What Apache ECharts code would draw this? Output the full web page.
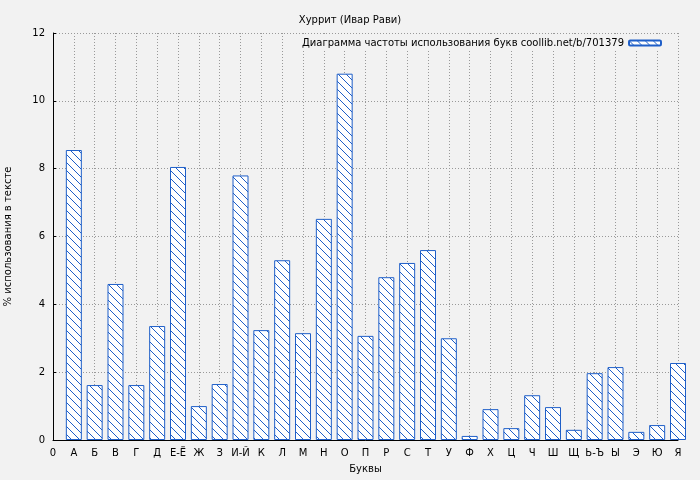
<!DOCTYPE html>
<html>
<head>
<meta charset="utf-8">
<script src="https://cdn.jsdelivr.net/npm/echarts@6/dist/echarts.min.js"></script>
<style>body{margin:0;background:#f2f2f2}#c{width:700px;height:480px}</style>
</head>
<body>
<div id="c"></div>
<script>
var letters = ['0','А','Б','В','Г','Д','Е-Ё','Ж','З','И-Й','К','Л','М','Н','О','П','Р','С','Т','У','Ф','Х','Ц','Ч','Ш','Щ','Ь-Ъ','Ы','Э','Ю','Я'];
var values = [8.55,1.62,4.6,1.62,3.36,8.05,1.0,1.65,7.8,3.24,5.3,3.15,6.52,10.8,3.07,4.8,5.22,5.6,3.0,0.12,0.91,0.35,1.32,0.97,0.3,1.97,2.15,0.24,0.44,2.27];
var seriesName = 'Диаграмма частоты использования букв coollib.net/b/701379';

// diagonal hatch fill
var pat = document.createElement('canvas');
pat.width = 8; pat.height = 8;
var g = pat.getContext('2d');
g.fillStyle = '#ffffff'; g.fillRect(0, 0, 8, 8);
g.strokeStyle = '#1f5fc8'; g.lineWidth = 1;
g.beginPath();
g.moveTo(-1, -1); g.lineTo(9, 9);
g.moveTo(-1, 7); g.lineTo(1, 9);
g.moveTo(7, -1); g.lineTo(9, 1);
g.stroke();

var data = values.map(function(v, i) { return [i + 1, v]; });
var grid = {lineStyle: {color: '#999', type: [1, 2]}};

var chart = echarts.init(document.getElementById('c'));
chart.setOption({
    backgroundColor: '#f2f2f2',
    textStyle: {fontFamily: 'DejaVu Sans'},
    title: {text: 'Хуррит (Ивар Рави)', left: 'center', top: 10,
        textStyle: {fontSize: 10, fontWeight: 'normal', color: '#000'}},
    legend: {right: 34, top: 36, itemWidth: 32, itemHeight: 5, align: 'right',
        backgroundColor: '#f2f2f2', padding: [2, 4],
        textStyle: {fontSize: 10, color: '#000'},
        data: [seriesName]},
    grid: {left: 53, right: 22, top: 33, bottom: 40, containLabel: false, outerBoundsMode: 'none'},
    xAxis: {type: 'value', min: 0, max: 30, interval: 1,
        name: 'Буквы', nameLocation: 'middle', nameGap: 24,
        nameTextStyle: {fontSize: 10, color: '#000'},
        axisLine: {lineStyle: {color: '#000'}},
        axisTick: {inside: true, length: 3},
        axisLabel: {fontSize: 10, color: '#000', formatter: function(v) { return letters[v]; }},
        splitLine: grid},
    yAxis: {type: 'value', min: 0, max: 12, interval: 2,
        name: '% использования в тексте', nameLocation: 'middle', nameGap: 40,
        nameTextStyle: {fontSize: 10, color: '#000'},
        axisLine: {show: true, lineStyle: {color: '#000'}},
        axisTick: {show: true, inside: true, length: 3},
        axisLabel: {fontSize: 10, color: '#000'},
        splitLine: grid},
    series: [{
        name: seriesName, type: 'bar', barWidth: 16, data: data, clip: true,
        itemStyle: {color: {image: pat, repeat: 'repeat'}, borderColor: '#1f5fc8', borderWidth: 1}
    }]
});
</script>
</body>
</html>
